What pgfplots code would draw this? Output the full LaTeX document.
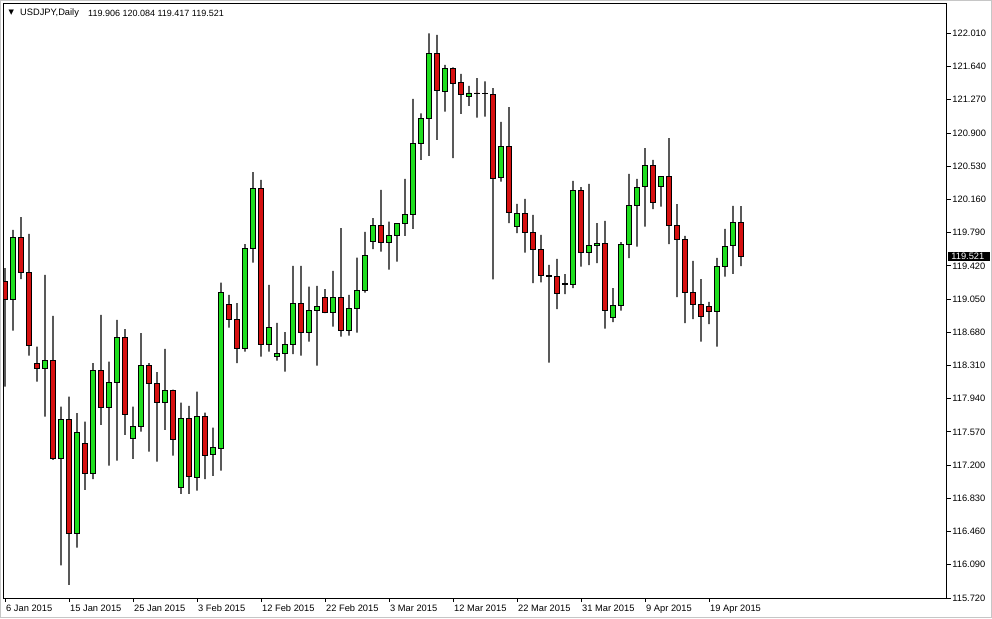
\documentclass[border=0pt]{standalone}
\usepackage{pgfplots}
\pgfplotsset{compat=1.18}
\usepackage{pgfplotstable}
\usepackage{fontspec}
\setmainfont{Liberation Sans}
\newfontfamily\symfont{DejaVu Sans}
\definecolor{bull}{RGB}{30,222,30}
\definecolor{bear}{RGB}{214,16,16}

\pgfplotstableread{
i O H L C
0 119.244 119.393 118.075 119.048
1 119.048 119.820 118.699 119.739
2 119.739 119.961 119.271 119.349
3 119.349 119.775 118.420 118.532
4 118.328 118.520 118.131 118.280
5 118.280 119.319 117.741 118.369
6 118.369 118.862 117.259 117.270
7 117.278 117.852 116.082 117.712
8 117.712 117.964 115.867 116.443
9 116.443 117.779 116.282 117.567
10 117.445 117.685 116.925 117.111
11 117.111 118.336 117.044 118.258
12 118.258 118.873 117.649 117.846
13 117.846 118.353 117.195 118.124
14 118.124 118.818 117.251 118.617
15 118.617 118.714 117.537 117.768
16 117.500 117.852 117.270 117.634
17 117.634 118.670 117.574 118.313
18 118.313 118.336 117.351 118.113
19 118.113 118.235 117.240 117.901
20 117.901 118.495 117.593 118.030
21 118.030 118.040 117.307 117.489
22 116.955 117.897 116.880 117.723
23 117.723 117.860 116.880 117.073
24 117.066 118.019 116.917 117.745
25 117.745 117.786 117.044 117.307
26 117.318 117.619 117.081 117.400
27 117.389 119.233 117.140 119.126
28 118.993 119.096 118.732 118.826
29 118.826 119.004 118.336 118.503
30 118.498 119.661 118.465 119.616
31 119.616 120.462 119.456 120.284
32 120.284 120.377 118.409 118.547
33 118.547 119.207 118.465 118.736
34 118.414 118.784 118.365 118.447
35 118.447 118.681 118.242 118.547
36 118.547 119.419 118.436 119.004
37 119.004 119.419 118.420 118.681
38 118.681 119.188 118.576 118.926
39 118.926 119.196 118.309 118.970
40 119.071 119.160 118.892 118.903
41 118.903 119.363 118.743 119.071
42 119.071 119.839 118.632 118.703
43 118.703 119.096 118.643 118.948
44 118.948 119.511 118.676 119.148
45 119.146 119.798 119.122 119.539
46 119.692 119.950 119.605 119.873
47 119.873 120.265 119.578 119.683
48 119.683 119.912 119.378 119.759
49 119.759 119.894 119.467 119.887
50 119.887 120.388 119.753 119.987
51 119.987 121.278 119.831 120.785
52 120.785 121.119 120.599 121.064
53 121.064 122.010 120.644 121.787
54 121.787 121.991 120.822 121.371
55 121.360 121.657 121.137 121.620
56 121.620 121.631 120.618 121.453
57 121.464 121.557 121.112 121.331
58 121.309 121.423 121.201 121.345
59 121.345 121.509 121.070 121.343
60 121.340 121.473 121.081 121.336
61 121.332 121.398 119.269 120.396
62 120.407 121.022 120.358 120.753
63 120.753 121.186 119.894 120.015
64 119.857 120.109 119.783 120.006
65 120.006 120.165 119.567 119.794
66 119.794 119.987 119.226 119.605
67 119.605 119.764 119.235 119.311
68 119.307 119.430 118.342 119.305
69 119.300 119.497 118.937 119.115
70 119.222 119.327 119.104 119.215
71 119.215 120.365 119.171 120.262
72 120.262 120.295 119.411 119.571
73 119.571 120.332 119.427 119.650
74 119.650 119.894 119.449 119.672
75 119.672 119.920 118.721 118.926
76 118.848 119.171 118.792 118.981
77 118.981 119.683 118.921 119.661
78 119.661 120.443 119.505 120.095
79 120.095 120.388 119.634 120.295
80 120.302 120.730 119.857 120.540
81 120.540 120.599 120.050 120.128
82 120.302 120.413 120.079 120.413
83 120.413 120.841 119.661 119.872
84 119.872 120.106 119.071 119.716
85 119.716 119.753 118.781 119.126
86 119.126 119.475 118.826 118.993
87 118.993 119.271 118.576 118.857
88 118.970 119.018 118.770 118.915
89 118.915 119.508 118.520 119.416
90 119.416 119.831 119.300 119.638
91 119.650 120.087 119.330 119.906
92 119.906 120.084 119.417 119.521
}\ohlc

\begin{document}
\begin{tikzpicture}[x=1pt,y=1pt]
\path[use as bounding box, fill=white] (0,0) rectangle (992,618);
\draw[gray!45, line width=1pt] (0.5,0.5) rectangle (991.5,617.5);
\begin{axis}[
  at={(3.5pt,20pt)}, anchor=south west,
  scale only axis, width=943.2pt, height=594pt,
  xmin=-0.19, xmax=117.71, ymin=115.72, ymax=122.336,
  enlargelimits=false,
  ybar stacked,
  axis line style={black, line width=1pt},
  tick align=outside, major tick length=4pt,
  tick style={black, line width=0.8pt},
  xtick pos=left, ytick pos=right, yticklabel pos=right,
  xtick={0,8,...,88},
  xticklabels={6 Jan 2015,15 Jan 2015,25 Jan 2015,3 Feb 2015,12 Feb 2015,22 Feb 2015,3 Mar 2015,12 Mar 2015,22 Mar 2015,31 Mar 2015,9 Apr 2015,19 Apr 2015},
  ytick={115.72,116.09,116.46,116.83,117.2,117.57,117.94,118.31,118.68,119.05,119.42,119.79,120.16,120.53,120.9,121.27,121.64,122.01},
  yticklabels={115.720,116.090,116.460,116.830,117.200,117.570,117.940,118.310,118.680,119.050,119.420,119.790,120.160,120.530,120.900,121.270,121.640,122.010},
  every tick label/.append style={font=\fontsize{9.3}{10}\selectfont},
  xticklabel style={anchor=north west, inner sep=0pt, xshift=1pt, yshift=-2.5pt},
  yticklabel style={anchor=west, inner sep=0pt, xshift=1.5pt},
]
\addplot[fill=none, draw=none, bar width=1pt] table[x=i, y=L] {\ohlc};
\addplot[fill=black, draw=none, bar width=1.4pt] table[x=i, y expr={min(\thisrow{O},\thisrow{C})-\thisrow{L}}] {\ohlc};
\addplot[fill=bull, draw=black, line width=0.9pt, bar width=4.6pt] table[x=i, y expr={max(\thisrow{C}-\thisrow{O},0)}] {\ohlc};
\addplot[fill=bear, draw=black, line width=0.9pt, bar width=4.6pt] table[x=i, y expr={max(\thisrow{O}-\thisrow{C},0)}] {\ohlc};
\addplot[fill=black, draw=none, bar width=1.4pt] table[x=i, y expr={\thisrow{H}-max(\thisrow{O},\thisrow{C})}] {\ohlc};
\coordinate (pc) at (axis cs:117.71,119.521);
\end{axis}
\node[fill=black, text=white, anchor=west, inner xsep=3pt, inner ysep=1pt, text width=36pt, font=\fontsize{9.3}{9.3}\selectfont] at ([xshift=1.5pt]pc) {119.521};
\node[anchor=west, inner sep=0pt, font=\symfont\fontsize{7}{8}\selectfont] at (8.5,605) {▼};
\node[anchor=west, inner sep=0pt, font=\fontsize{9.3}{10}\selectfont] at (20,605) {USDJPY,Daily};
\node[anchor=west, inner sep=0pt, font=\fontsize{9}{10}\selectfont] at (88,605) {119.906 120.084 119.417 119.521};
\end{tikzpicture}
\end{document}
